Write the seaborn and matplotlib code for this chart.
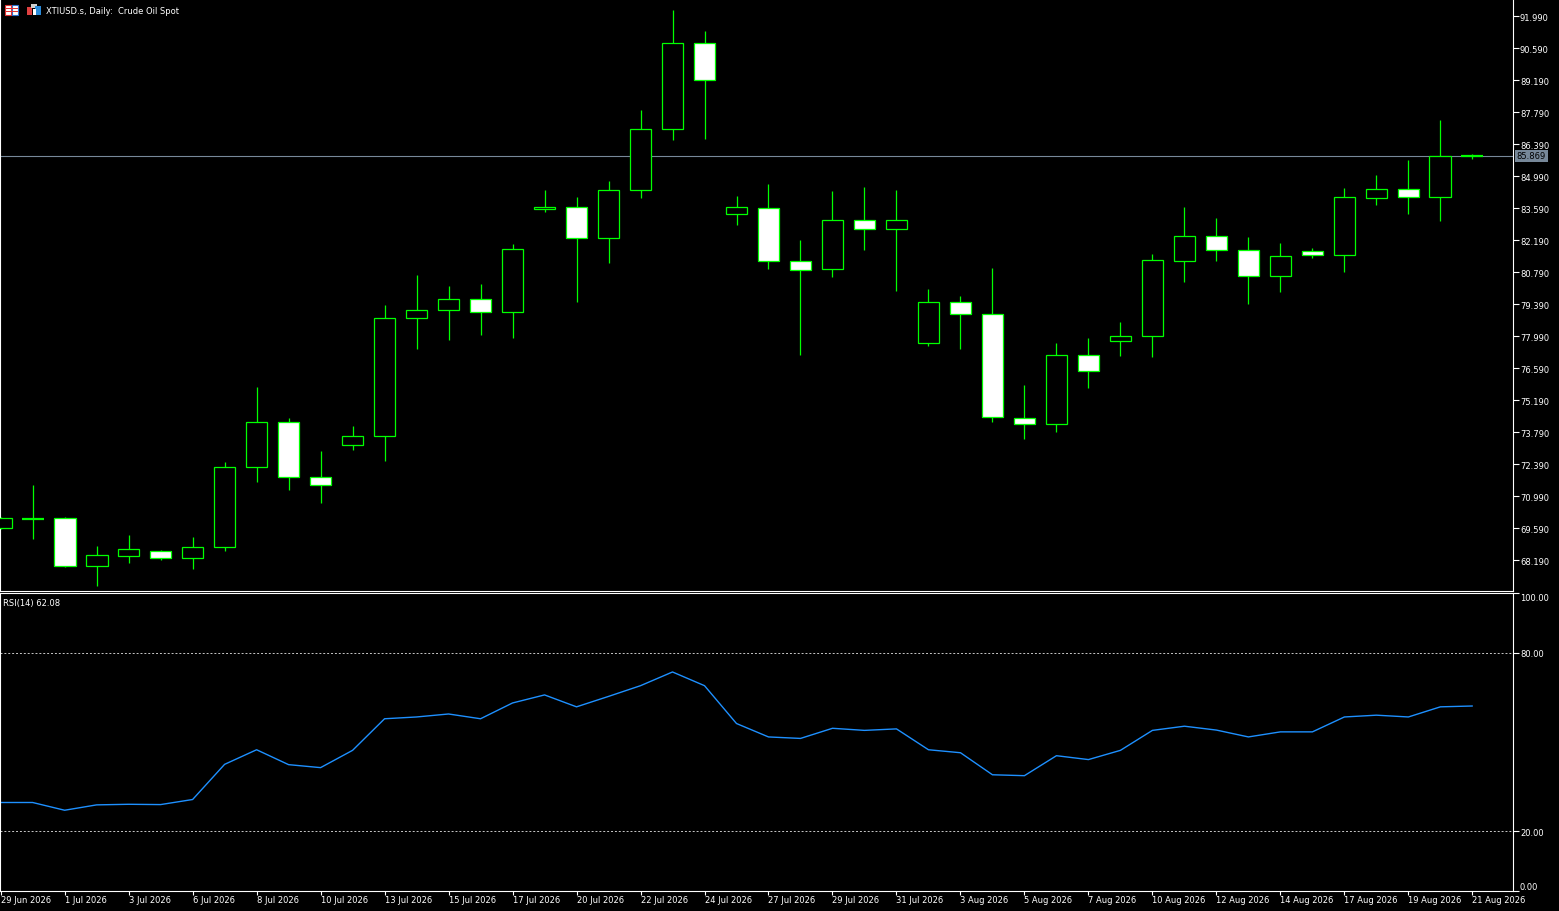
import numpy as np
import pandas as pd
import seaborn as sns
import matplotlib.pyplot as plt
from matplotlib.patches import Rectangle

# daily OHLC, XTIUSD.s
opens = [69.60, 69.98, 70.01, 67.94, 68.38, 68.57, 68.27, 68.75, 72.25, 74.22,
         71.81, 73.21, 73.60, 78.77, 79.11, 79.60, 79.03, 83.53, 83.62, 82.27,
         84.36, 87.03, 90.80, 83.31, 83.58, 81.26, 80.91, 83.05, 82.66, 77.67,
         79.46, 78.94, 74.39, 74.13, 77.15, 77.76, 77.99, 81.28, 82.35, 81.74,
         80.60, 81.70, 81.52, 84.04, 84.41, 84.08, 85.85]
highs = [70.07, 71.47, 70.06, 68.80, 69.28, 68.61, 69.20, 72.46, 75.75, 74.39,
         72.96, 74.05, 79.35, 80.66, 80.18, 80.27, 82.01, 84.38, 84.07, 84.77,
         87.88, 92.25, 91.33, 84.11, 84.64, 82.19, 84.33, 84.51, 84.38, 80.05,
         79.74, 80.97, 75.85, 77.68, 77.90, 78.60, 81.58, 83.63, 83.15, 82.32,
         82.06, 81.84, 84.46, 85.03, 85.69, 87.44, 85.95]
lows = [69.54, 69.12, 67.90, 67.07, 68.07, 68.20, 67.81, 68.60, 71.62, 71.27,
        70.70, 73.02, 72.53, 77.43, 77.83, 78.05, 77.92, 83.43, 79.49, 81.20,
        84.04, 86.58, 86.62, 82.86, 80.93, 77.17, 80.58, 81.77, 79.97, 77.56,
        77.43, 74.24, 73.50, 73.80, 75.73, 77.11, 77.07, 80.37, 81.28, 79.39,
        79.93, 81.42, 80.80, 83.74, 83.34, 83.00, 85.75]
closes = [70.01, 69.98, 67.94, 68.40, 68.66, 68.27, 68.75, 72.25, 74.22, 71.81,
          71.46, 73.60, 78.77, 79.11, 79.60, 79.03, 81.78, 83.62, 82.27, 84.36,
          87.03, 90.80, 89.18, 83.62, 81.26, 80.86, 83.05, 82.66, 83.05, 79.46,
          78.94, 74.43, 74.13, 77.15, 76.45, 77.98, 81.30, 82.35, 81.74, 80.60,
          81.48, 81.52, 84.06, 84.41, 84.08, 85.85, 85.869]

# RSI(14)
rsi = [29.7, 29.7, 27.1, 28.9, 29.1, 29.0, 30.7, 42.5, 47.4, 42.4,
       41.4, 47.2, 57.8, 58.4, 59.4, 57.8, 63.1, 65.8, 61.8, 65.3,
       68.9, 73.5, 68.9, 56.2, 51.7, 51.2, 54.6, 53.9, 54.4, 47.4,
       46.4, 39.0, 38.7, 45.4, 44.1, 47.2, 53.9, 55.3, 54.0, 51.7,
       53.4, 53.4, 58.4, 59.0, 58.4, 61.8, 62.08]

date_labels = ["29 Jun 2026", "1 Jul 2026", "3 Jul 2026", "6 Jul 2026", "8 Jul 2026",
               "10 Jul 2026", "13 Jul 2026", "15 Jul 2026", "17 Jul 2026", "20 Jul 2026",
               "22 Jul 2026", "24 Jul 2026", "27 Jul 2026", "29 Jul 2026", "31 Jul 2026",
               "3 Aug 2026", "5 Aug 2026", "7 Aug 2026", "10 Aug 2026", "12 Aug 2026",
               "14 Aug 2026", "17 Aug 2026", "19 Aug 2026", "21 Aug 2026"]
price_ticks = [68.19, 69.59, 70.99, 72.39, 73.79, 75.19, 76.59, 77.99, 79.39,
               80.79, 82.19, 83.59, 84.99, 86.39, 87.79, 89.19, 90.59, 91.99]
rsi_ticks = [0, 20, 80, 100]
last_price = 85.869

GREEN = "#00ff00"
W, H = 1559, 912

sns.set_theme(style="dark", rc={"axes.facecolor": "black", "figure.facecolor": "black",
                                "axes.grid": False})
plt.rcParams["font.family"] = ["DejaVu Sans"]

fig = plt.figure(figsize=(W / 100, H / 100), dpi=100)
ax = fig.add_axes([0, 1 - 592 / H, 1513 / W, 592 / H])
ax2 = fig.add_axes([0, 1 - 892 / H, 1513 / W, 298 / H])

# 1. candles
x = np.arange(len(opens))
o = np.array(opens)
c = np.array(closes)
up = c >= o
doji = np.abs(c - o) < 0.03
ax.vlines(x, lows, highs, color=GREEN, lw=0.9, zorder=2)
ax.bar(x, np.abs(c - o), bottom=np.minimum(o, c), width=0.68,
       color=np.where(up, "black", "white"), edgecolor=GREEN,
       linewidth=np.where(doji, 1.6, 0.9), zorder=3)
ax.axhline(last_price, color="#778899", lw=0.8, zorder=1)
ax.text(1.0025, last_price, f"{last_price:.3f}", transform=ax.get_yaxis_transform(),
        ha="left", va="center", fontsize=6, color="black",
        bbox=dict(facecolor="#778899", edgecolor="none", pad=1.2))

ax.set_xlim(-0.02, 47.27)
ax.set_ylim(66.834, 92.734)
ax.set_xticks([])
ax.set_yticks(price_ticks)
ax.set_yticklabels([f"{t:.3f}" for t in price_ticks])
ax.tick_params(axis="y", left=False, right=True, labelleft=False, labelright=True,
               colors="white", direction="out", length=4, width=0.8, labelsize=6, pad=1)

# 2. RSI
df = pd.DataFrame({"bar": x, "rsi": rsi})
sns.lineplot(data=df, x="bar", y="rsi", color="#1e90ff", linewidth=1, ax=ax2, legend=False)
for lvl in (80, 20):
    ax2.axhline(lvl, color="#c8c8c8", lw=0.7, ls=(0, (2, 2)))
ax2.set_xlim(-0.02, 47.27)
ax2.set_ylim(0, 100)
ax2.set_xlabel("")
ax2.set_ylabel("")
ax2.set_yticks(rsi_ticks)
ax2.set_yticklabels([f"{t:.2f}" for t in rsi_ticks])
ax2.tick_params(axis="y", left=False, right=True, labelleft=False, labelright=True,
                colors="white", direction="out", length=4, width=0.8, labelsize=6, pad=1)
ylabs = ax2.get_yticklabels()
ylabs[0].set_va("bottom")
ylabs[-1].set_va("top")
ax2.set_xticks(x[::2])
ax2.set_xticklabels(date_labels, ha="left")
ax2.tick_params(axis="x", bottom=True, colors="white", direction="out", length=3,
                width=0.8, labelsize=6, pad=0)

for a in (ax, ax2):
    for s in a.spines.values():
        s.set_color("white")
        s.set_linewidth(0.8)
ax.spines["top"].set_visible(False)

# 3. header texts + little toolbar icons
fig.text(46 / W, 1 - 11 / H, "XTIUSD.s, Daily:  Crude Oil Spot", color="white",
         fontsize=6, va="center", ha="left")
fig.text(3 / W, 1 - 604 / H, "RSI(14) 62.08", color="white", fontsize=6,
         va="center", ha="left")


def px_rect(x0, y0, w, h, **kw):
    fig.add_artist(Rectangle((x0 / W, 1 - (y0 + h) / H), w / W, h / H,
                             transform=fig.transFigure, **kw))


px_rect(5, 6, 6, 10, facecolor="white", edgecolor="#e03030", lw=0.8)
px_rect(12, 6, 6, 10, facecolor="white", edgecolor="#2a6fd0", lw=0.8)
for yy in (9, 12):
    px_rect(5, yy, 13, 1, facecolor="#e03030", edgecolor="none")
px_rect(27, 8, 5, 8, facecolor="#e04040", edgecolor="none")
px_rect(31, 5, 6, 4, facecolor="#d0d0d0", edgecolor="none")
px_rect(35, 7, 6, 9, facecolor="#2a8ad8", edgecolor="none")
px_rect(33, 10, 3, 6, facecolor="white", edgecolor="none")

plt.savefig("out.png", dpi=100, facecolor="black")
